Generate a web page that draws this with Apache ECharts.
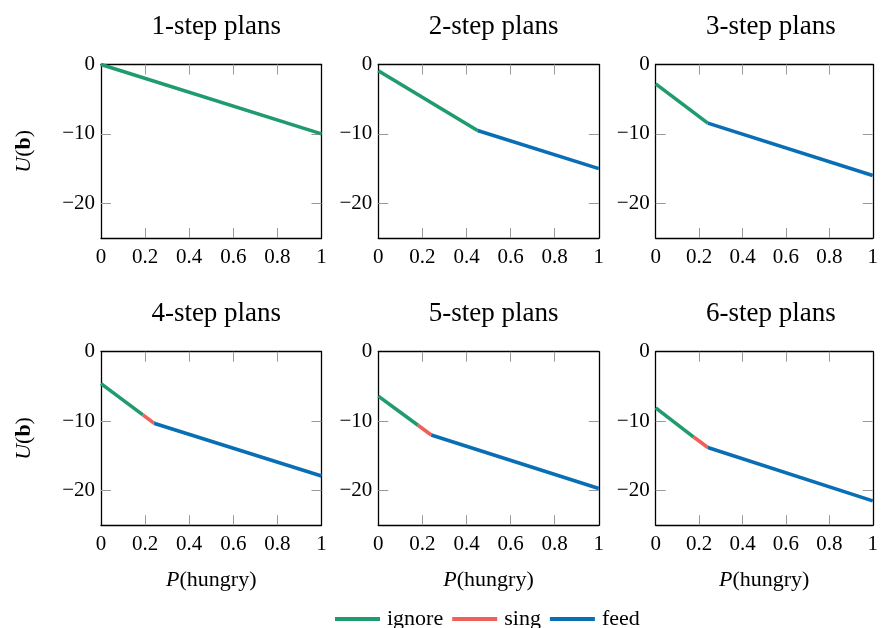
<!DOCTYPE html>
<html>
<head>
<meta charset="utf-8">
<script src="https://cdn.jsdelivr.net/npm/echarts@6/dist/echarts.min.js"></script>
<style>
html,body{margin:0;padding:0;background:#fff;}
#main{width:881px;height:628px;}
</style>
</head>
<body>
<div id="main"></div>
<script>
// ---- data ----
const titles = ['1-step plans', '2-step plans', '3-step plans', '4-step plans', '5-step plans', '6-step plans'];
const xTicks = [0, 0.2, 0.4, 0.6, 0.8, 1];
const xInnerTicks = [0.2, 0.4, 0.6, 0.8];
const yTicks = [-20, -10, 0];
const yInnerTicks = [-20, -10];
const ignoreData = [
  [[0, 0], [1, -10]],
  [[0, -0.9], [0.45, -9.5]],
  [[0, -2.8], [0.24, -8.45]],
  [[0, -4.6], [0.19, -9.1]],
  [[0, -6.4], [0.18, -10.6]],
  [[0, -8.1], [0.175, -12.3]]
];
const singData = [
  null,
  null,
  null,
  [[0.19, -9.1], [0.24, -10.3]],
  [[0.18, -10.6], [0.24, -12.0]],
  [[0.175, -12.3], [0.24, -13.8]]
];
const feedData = [
  null,
  [[0.45, -9.5], [1, -15]],
  [[0.24, -8.45], [1, -16]],
  [[0.24, -10.3], [1, -17.9]],
  [[0.24, -12.0], [1, -19.7]],
  [[0.24, -13.8], [1, -21.5]]
];
const seriesNames = ['ignore', 'sing', 'feed'];
const seriesColors = ['#209b6e', '#f05f5a', '#0a6eb4'];

// ---- layout ----
const FONT = "'Liberation Serif', 'DejaVu Serif', serif";
const colLeft = [101, 378.3, 655.7];
const colWidth = 220.5;
const rowTop = [64.5, 351.7];
const rowHeight = 173.5;

const chart = echarts.init(document.getElementById('main'));
const fmtY = v => (v < 0 ? '\u2212' + Math.abs(v) : String(v));

const frameLine = { show: true, onZero: false, lineStyle: { color: '#000', width: 1.3 } };
const grids = [], xAxes = [], yAxes = [], series = [], title = [];
for (let i = 0; i < 6; i++) {
  const r = Math.floor(i / 3), c = i % 3;
  grids.push({
    left: colLeft[c], top: rowTop[r], width: colWidth, height: rowHeight,
    show: false, containLabel: false
  });
  title.push({
    text: titles[i], left: colLeft[c] + colWidth / 2, top: r === 0 ? 8 : 295, textAlign: 'center',
    textStyle: { fontFamily: FONT, fontSize: 27, fontWeight: 'normal', color: '#000' }
  });
  const tickStyle = { show: true, inside: true, length: 10, lineStyle: { color: '#999', width: 1 } };
  // bottom x axis
  xAxes.push({
    gridIndex: i, type: 'value', min: 0, max: 1, interval: 0.2, position: 'bottom',
    axisLine: frameLine, splitLine: { show: false },
    axisTick: Object.assign({}, tickStyle, { customValues: xInnerTicks }),
    axisLabel: { customValues: xTicks, margin: 9, fontFamily: FONT, fontSize: 21, color: '#000', formatter: v => String(v) },
    name: r === 1 ? '{i|P}(hungry)' : '', nameLocation: 'middle', nameGap: 44,
    nameTextStyle: { fontFamily: FONT, fontSize: 22, color: '#000', rich: { i: { fontFamily: FONT, fontSize: 22, fontStyle: 'italic' } } }
  });
  // top mirror x axis
  xAxes.push({
    gridIndex: i, type: 'value', min: 0, max: 1, interval: 0.2, position: 'top',
    axisLine: frameLine, splitLine: { show: false },
    axisTick: Object.assign({}, tickStyle, { customValues: xInnerTicks }),
    axisLabel: { show: false }
  });
  // left y axis
  yAxes.push({
    gridIndex: i, type: 'value', min: -25, max: 0, position: 'left',
    axisLine: frameLine, splitLine: { show: false },
    axisTick: Object.assign({}, tickStyle, { customValues: yInnerTicks }),
    axisLabel: { customValues: yTicks, margin: 6, fontFamily: FONT, fontSize: 21, color: '#000', formatter: fmtY },
    name: c === 0 ? '{i|U}({b|b})' : '', nameLocation: 'middle', nameGap: 66,
    nameTextStyle: { fontFamily: FONT, fontSize: 22, color: '#000',
      rich: { i: { fontFamily: FONT, fontSize: 22, fontStyle: 'italic' }, b: { fontFamily: FONT, fontSize: 22, fontWeight: 'bold' } } }
  });
  // right mirror y axis
  yAxes.push({
    gridIndex: i, type: 'value', min: -25, max: 0, position: 'right',
    axisLine: frameLine, splitLine: { show: false },
    axisTick: Object.assign({}, tickStyle, { customValues: yInnerTicks }),
    axisLabel: { show: false }
  });
  const segs = [ignoreData[i], singData[i], feedData[i]];
  segs.forEach((d, k) => {
    if (!d) return;
    series.push({
      name: seriesNames[k], type: 'line', xAxisIndex: i * 2, yAxisIndex: i * 2,
      data: d, showSymbol: false, symbol: 'none', silent: true, animation: false,
      lineStyle: { color: seriesColors[k], width: 3.6, cap: 'butt' },
      itemStyle: { color: seriesColors[k] }, z: 3
    });
  });
}

chart.setOption({
  animation: false,
  backgroundColor: '#fff',
  title: title,
  grid: grids,
  xAxis: xAxes,
  yAxis: yAxes,
  legend: {
    data: seriesNames, left: 330, top: 603, icon: 'rect', itemWidth: 45, itemHeight: 4, itemGap: 9,
    textStyle: { fontFamily: FONT, fontSize: 22, color: '#000', padding: [0, 0, 0, 2] }
  },
  series: series
});
</script>
</body>
</html>
